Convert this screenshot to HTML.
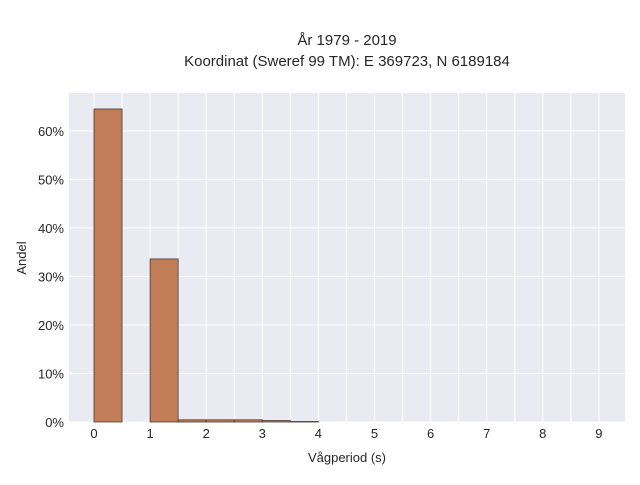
<!DOCTYPE html>
<html><head><meta charset="utf-8"><style>
body{margin:0;background:#fff;font-family:"Liberation Sans",sans-serif}
svg text{font-family:"Liberation Sans",sans-serif;fill:#262626}
</style></head><body>
<svg width="640" height="480">
<rect x="0" y="0" width="640" height="480" fill="#fff"/>
<text x="347" y="45" font-size="15" text-anchor="middle">År 1979 - 2019</text>
<text x="347" y="66" font-size="15" text-anchor="middle">Koordinat (Sweref 99 TM): E 369723, N 6189184</text>
<rect x="69" y="93" width="556" height="329" fill="#eaeaf2"/>
<g id="grid"></g><g id="bars"></g><g id="xt"></g><g id="yt"></g>
<text x="347" y="462" font-size="13" text-anchor="middle">Vågperiod (s)</text>
<text transform="translate(26,258) rotate(-90)" font-size="13" text-anchor="middle">Andel</text>
</svg>
<script>
const binStarts=[0,1,1.5,2,2.5,3,3.5];
const binWidth=0.5;
const shares=[64.5,33.6,0.45,0.45,0.45,0.3,0.1];
const xTicks=[0,1,2,3,4,5,6,7,8,9];
const yTicks=[0,10,20,30,40,50,60];
const NS="http://www.w3.org/2000/svg";
const x=v=>94+v*56.1, y=v=>422-v*4.853;
function mk(t,a,p){const e=document.createElementNS(NS,t);for(const k in a)e.setAttribute(k,a[k]);p.appendChild(e);return e;}
const g=document.getElementById('grid');
for(let v=-0.5;v<=9.5;v+=0.5){if(x(v)<69||x(v)>625)continue;
const l=mk('line',{x1:x(v),x2:x(v),y1:93,y2:422,stroke:'#fff','stroke-width':1},g);

}
yTicks.forEach(v=>{const l=mk('line',{x1:69,x2:625,y1:y(v),y2:y(v),stroke:'#fff','stroke-width':1},g);

});
const b=document.getElementById('bars');
binStarts.forEach((s,i)=>{const r=mk('rect',{x:x(s),y:y(shares[i]),width:x(s+binWidth)-x(s),height:y(0)-y(shares[i]),fill:'#c17d58',stroke:'#4a3a30','stroke-width':0.8},b);

});
const xt=document.getElementById('xt');
xTicks.forEach(v=>{const t=mk('text',{x:x(v),y:438,'font-size':13,'text-anchor':'middle'},xt);t.textContent=v;

});
const yt=document.getElementById('yt');
yTicks.forEach(v=>{const t=mk('text',{x:64,y:y(v)+5,'font-size':13,'text-anchor':'end'},yt);t.textContent=v+'%';

});
</script>
</body></html>
